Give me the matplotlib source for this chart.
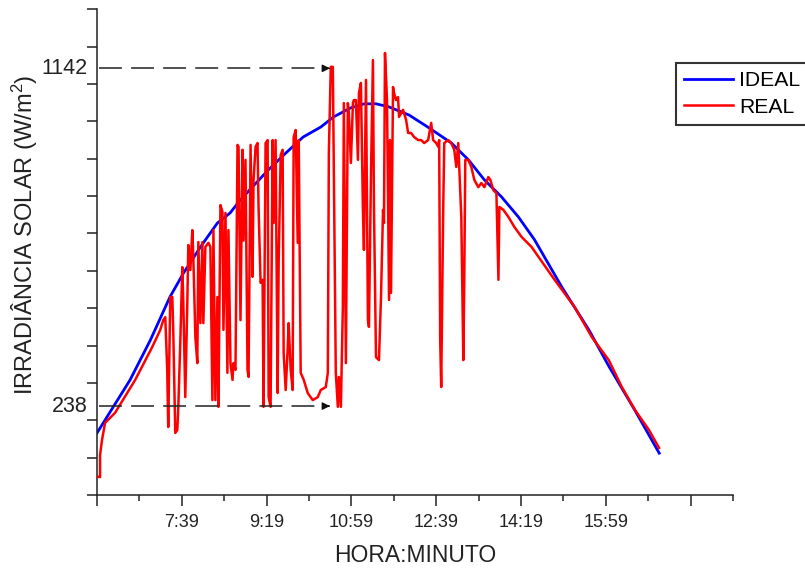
import numpy as np
import matplotlib
matplotlib.use('Agg')
import matplotlib.pyplot as plt
import matplotlib.transforms as mtransforms

plt.rcParams['font.family'] = ['Liberation Sans', 'DejaVu Sans']
plt.rcParams['mathtext.fontset'] = 'custom'
plt.rcParams['mathtext.rm'] = 'Liberation Sans'
plt.rcParams['mathtext.it'] = 'Liberation Sans'

# time in minutes since midnight, irradiance in W/m2
ideal_t = [359, 398, 422, 445, 461, 481, 501, 516, 526, 542, 561, 582, 602, 623,
           638, 658, 674, 688, 703, 727, 751, 777, 797, 816, 836, 856, 875, 907,
           939, 963, 993, 1022]
ideal_v = [166, 308, 415, 530, 594, 664, 728, 755, 784, 824, 870, 916, 958, 985,
           1012, 1036, 1047, 1047, 1039, 1017, 982, 942, 897, 843, 798, 744, 683, 557,
           442, 343, 228, 112]

real_t = [360, 362.6, 362.6, 364.9, 368.5, 380.3, 404, 424.1, 433.6, 437.1, 439.5,
          441.8, 443, 445.4, 447.8, 448.9, 451.3, 453.7, 454.9, 457.2, 459.6, 460.8,
          463.1, 465.5, 466.7, 469.1, 471.4, 472.6, 475, 477.3, 478.5, 480.9, 483.3,
          484.4, 486.8, 490.4, 492.7, 495.1, 496.3, 498.6, 501, 502.2, 504.6, 506.9,
          508.1, 510.5, 512.8, 514,
          516.4, 518.8, 519.9, 522.3, 524.7, 525.9, 528.2, 530.6, 531.8, 534.1, 536.5,
          537.7, 540.1, 542.4, 543.6, 546, 548.3, 549.5, 551.9, 554.3, 555.4, 557.8,
          560.2, 561.4, 563.7, 566.1, 567.3, 569.6, 572, 573.2, 575.6, 577.9, 579.1,
          581.5, 583.8, 585, 587.4, 589.7, 590.9, 593.3, 595.7, 596.9, 599.2,
          602.8, 607.5, 613.4, 619.3, 622.9, 628.8, 631.2, 632.4, 634.7, 637.1, 638.3,
          640.6, 643, 644.2, 646.6, 648.9, 650.1, 652.5, 654.8, 656, 658.4, 660.8,
          661.9, 664.3, 666.7, 667.9, 670.2, 672.6, 673.8, 676.2, 678.5, 679.7, 682.1,
          684.4, 685.6, 688, 691.5, 693.9,
          696.3, 697.4, 698.6, 701, 703.4, 704.5, 705.7, 708.1, 709.3, 711.6, 714,
          715.2, 719.9, 723.5, 725.9, 729.4, 733, 737.7, 741.2, 744.8, 749.5, 753.1,
          755.4, 759, 761.4, 762.5, 763.7, 764.9, 767.3, 768.5, 773.2, 776.7, 780.3,
          782.7, 785, 786.2, 788.6, 791, 792.1, 793.3, 796.9, 800.4, 804, 808.7,
          812.2, 815.8, 820.5, 822.9, 826.4, 830, 832.4, 833.5, 838.3, 844.2, 851.3,
          859.6, 871.4,
          898.6, 922.3, 942.4, 962.5, 977.9, 993.3, 1009.9, 1021.8]
real_v = [49, 48, 107, 147, 193, 220, 308, 396, 442, 468, 476,
          335, 182, 530, 530, 442, 166, 174, 236, 407, 610, 514,
          262, 514, 669, 602, 709, 637, 423, 353, 677, 460, 677,
          460, 664, 675, 664, 254, 709, 254, 530, 236, 776, 758,
          442, 755, 327, 709,
          353, 308, 353, 335, 937, 932, 468, 924, 681, 897, 335,
          316, 937, 584, 843, 932, 942, 771, 568, 576, 236, 942,
          950, 262, 236, 950, 728, 950, 273, 621, 910, 924, 380,
          281, 388, 460, 335, 281, 958, 977, 675, 950, 327,
          308, 273, 254, 262, 281, 289, 327, 916, 1146, 1146, 862,
          327, 236, 316, 236, 503, 1049, 353, 1049, 1023, 889, 1049,
          1057, 1057, 897, 1076, 1103, 763, 656, 1111, 468, 450, 862,
          1164, 771, 369, 361, 530,
          763, 728, 1183, 1057, 522, 950, 541, 1092, 1076, 1057, 1065,
          1012, 1031, 1004, 969, 969, 958, 950, 950, 942, 950, 996,
          950, 942, 932, 950, 415, 289, 771, 942, 950, 942, 924,
          878, 942, 878, 744, 361, 576, 897, 897, 878, 843, 824,
          835, 824, 851, 843, 816, 808, 576, 771, 763, 744, 717,
          691, 664,
          576, 503, 423, 361, 289, 228, 174, 126]

major_ticks = [359, 459, 559, 659, 759, 859, 959, 1059]
major_labels = ['', '7:39', '9:19', '10:59', '12:39', '14:19', '15:59', '']
minor_ticks = [409, 509, 609, 709, 809, 909, 1009, 1109]

marked_values = [1142, 238]
marked_time = 637

fig = plt.figure(figsize=(8.05, 5.68), dpi=100)
ax = fig.add_axes([97 / 805, 73 / 568, 636 / 805, 485.7 / 568])

ax.plot(ideal_t, ideal_v, color='#0000ff', lw=2.0, label='IDEAL', zorder=2)
ax.plot(real_t, real_v, color='#ff0000', lw=1.8, label='REAL', zorder=3)

# dashed guide lines with arrow heads
trans = mtransforms.blended_transform_factory(ax.transAxes, ax.transData)
for val in marked_values:
    ax.plot([361, marked_time - 6], [val, val], color='#222222', lw=1.1,
            dashes=(15, 6), zorder=4)
    ax.annotate('', xy=(marked_time, val), xytext=(marked_time - 8, val),
                arrowprops=dict(arrowstyle='-|>', color='#111111', lw=1.0,
                                mutation_scale=11), zorder=5)
    ax.text(-0.015, val, str(val), transform=trans, ha='right', va='center',
            fontsize=15.5, color='#222222')

ax.set_xlim(359, 1109)
ax.set_ylim(0, 1300)
ax.set_xticks(major_ticks)
ax.set_xticklabels(major_labels)
ax.set_xticks(minor_ticks, minor=True)
ax.set_yticks(np.arange(0, 1301, 100))
ax.set_yticklabels([])

for s in ['top', 'right']:
    ax.spines[s].set_visible(False)
for s in ['left', 'bottom']:
    ax.spines[s].set_linewidth(1.1)
    ax.spines[s].set_color('#222222')

ax.tick_params(axis='x', which='major', direction='out', length=8, width=1.1,
               labelsize=13, pad=6, color='#222222', labelcolor='#222222')
ax.tick_params(axis='x', which='minor', direction='out', length=4, width=1.1,
               color='#222222')
ax.tick_params(axis='y', direction='out', length=7, width=1.1, color='#222222')

ax.set_xlabel('HORA:MINUTO', fontsize=16.5, color='#222222', labelpad=9)
ax.set_ylabel('IRRADIÂNCIA SOLAR (W/m$^2$)', fontsize=17, color='#222222')
ax.yaxis.set_label_coords(-0.09, 0.535)

leg = ax.legend(loc='upper left', bbox_to_anchor=(676 / 805, 1 - 63 / 568),
                bbox_transform=fig.transFigure, borderaxespad=0, fontsize=15.2,
                frameon=True, fancybox=False, handlelength=2.3,
                handletextpad=0.3, labelspacing=0.35, borderpad=0.4)
leg.get_frame().set_edgecolor('black')
leg.get_frame().set_linewidth(1.5)

fig.savefig('out.png', dpi=100)
